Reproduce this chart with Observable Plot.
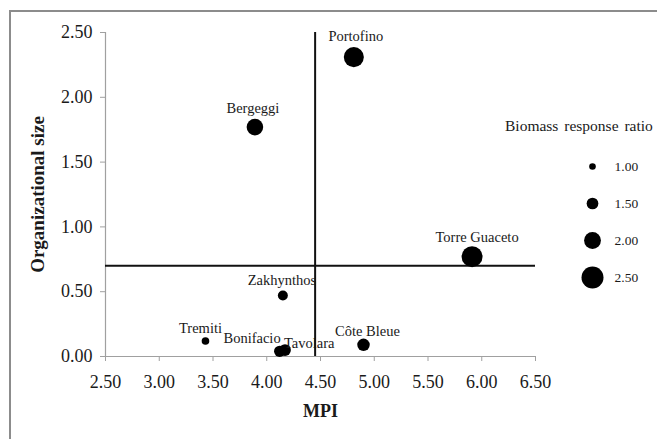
<!DOCTYPE html>
<html>
<head>
<meta charset="utf-8">
<script src="https://cdn.jsdelivr.net/npm/d3@7"></script>
<script src="https://cdn.jsdelivr.net/npm/@observablehq/plot@0.6"></script>
<style>
  html, body { margin: 0; padding: 0; background: #fff; }
  #wrap { position: relative; width: 657px; height: 439px; overflow: hidden; font-family: "Liberation Serif", "Times New Roman", serif; }
  #frame { position: absolute; left: 9px; top: 10px; width: 700px; height: 500px; border-top: 2px solid #8c8c8c; border-left: 2px solid #8c8c8c; box-sizing: border-box; }
  #chart { position: absolute; left: 0; top: 0; }
  #legtitle { position: absolute; left: 505px; top: 117px; font-size: 15.5px; color: #1a1a1a; white-space: nowrap; word-spacing: 2px; }
  #legend { position: absolute; left: 560px; top: 140px; }
</style>
</head>
<body>
<div id="wrap">
  <div id="frame"></div>
  <div id="chart"></div>
  <div id="legtitle"></div>
  <div id="legend"></div>
</div>
<script>
// ---- data ----
const sites   = ["Portofino", "Bergeggi", "Torre Guaceto", "Zakhynthos", "Tremiti", "Bonifacio", "Tavolara", "Côte Bleue"];
const mpi     = [4.81, 3.89, 5.91, 4.15, 3.43, 4.12, 4.17, 4.90];
const orgSize = [2.31, 1.77, 0.77, 0.47, 0.12, 0.04, 0.05, 0.09];
const biomass = [2.31, 1.97, 2.40, 1.33, 1.10, 1.45, 1.50, 1.57];
const xTicks = [2.5, 3.0, 3.5, 4.0, 4.5, 5.0, 5.5, 6.0, 6.5];
const yTicks = [0.0, 0.5, 1.0, 1.5, 2.0, 2.5];
const refMPI = 4.45;
const refSize = 0.70;
const legendValues = [1.0, 1.5, 2.0, 2.5];
const legendTitle = "Biomass response ratio";
const xLabel = "MPI";
const yLabel = "Organizational size";

// ---- build ----
const data = sites.map((s, i) => ({site: s, mpi: mpi[i], size: orgSize[i], bio: biomass[i]}));
const fmt = d3.format(".2f");
const font = "'Liberation Serif', 'Times New Roman', serif";
const rScale = {type: "linear", domain: [1, 2.5], range: [3.3, 11]};

// label placement (style only): [dx, dy, textAnchor]
const labelPlace = {
  "Portofino": [2, -21, "middle"],
  "Bergeggi": [-2, -19, "middle"],
  "Torre Guaceto": [5, -19, "middle"],
  "Zakhynthos": [-1, -15, "middle"],
  "Tremiti": [-5, -13, "middle"],
  "Bonifacio": [1, -13, "end"],
  "Tavolara": [-1, -7, "start"],
  "Côte Bleue": [4, -13, "middle"]
};

const labelMarks = sites.map(s => {
  const [dx, dy, anchor] = labelPlace[s];
  return Plot.text(data.filter(d => d.site === s), {
    x: "mpi", y: "size", text: "site", dx, dy, textAnchor: anchor,
    fontSize: 14.5, fill: "#1a1a1a"
  });
});

const chart = Plot.plot({
  width: 657,
  height: 439,
  marginLeft: 105,
  marginRight: 122,
  marginTop: 32,
  marginBottom: 83,
  style: {fontFamily: font, background: "transparent", color: "#1a1a1a"},
  x: {domain: [2.5, 6.5]},
  y: {domain: [0, 2.5]},
  r: rScale,
  marks: [
    Plot.ruleY([0], {stroke: "#a0a0a0", strokeWidth: 1.2}),
    Plot.ruleX([2.5], {stroke: "#a0a0a0", strokeWidth: 1.2}),
    Plot.axisX({ticks: xTicks, tickFormat: fmt, tickSize: 5, tickPadding: 14, fontSize: 18, stroke: "#a0a0a0", fill: "#1a1a1a", label: null}),
    Plot.axisY({ticks: yTicks, tickFormat: fmt, tickSize: 5, tickPadding: 8, fontSize: 18, stroke: "#a0a0a0", fill: "#1a1a1a", label: null}),
    Plot.ruleX([refMPI], {stroke: "#111", strokeWidth: 2}),
    Plot.ruleY([refSize], {stroke: "#111", strokeWidth: 2}),
    Plot.dot(data, {x: "mpi", y: "size", r: "bio", fill: "#000", sort: {channel: "r", order: "descending"}}),
    ...labelMarks,
    Plot.text([xLabel], {frameAnchor: "bottom", text: d => d, dy: 55, lineAnchor: "middle", textAnchor: "middle", fontSize: 18, fontWeight: "bold", fill: "#1a1a1a"}),
    Plot.text([yLabel], {frameAnchor: "left", text: d => d, dx: -68, rotate: -90, textAnchor: "middle", lineAnchor: "middle", fontSize: 19, fontWeight: "bold", fill: "#1a1a1a"})
  ]
});
document.getElementById("chart").appendChild(chart);

document.getElementById("legtitle").textContent = legendTitle;

const legend = Plot.plot({
  width: 97,
  height: 160,
  marginTop: 25,
  marginBottom: 23,
  marginLeft: 32,
  marginRight: 0,
  style: {fontFamily: font, background: "transparent", color: "#1a1a1a"},
  y: {type: "point", domain: legendValues, padding: 0, axis: null},
  r: rScale,
  marks: [
    Plot.dot(legendValues, {y: d => d, r: d => d, frameAnchor: "left", fill: "#000"}),
    Plot.text(legendValues, {y: d => d, text: d => fmt(d), frameAnchor: "left", dx: 22, textAnchor: "start", fontSize: 13.5, fill: "#1a1a1a"})
  ]
});
document.getElementById("legend").appendChild(legend);
</script>
</body>
</html>
